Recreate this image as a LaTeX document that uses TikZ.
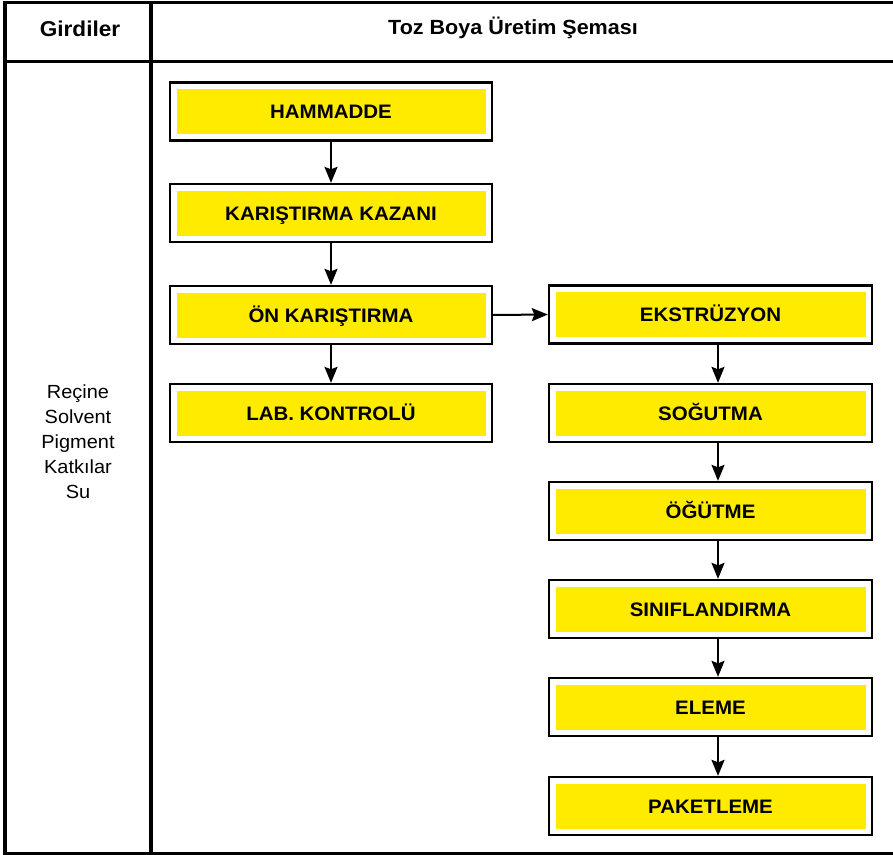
\documentclass[tikz,border=0pt]{standalone}
\usepackage{fontspec}
\setmainfont{Liberation Sans}[FakeStretch=1.05]
\usetikzlibrary{arrows.meta,calc}
\definecolor{boxyellow}{RGB}{255,235,0}
\begin{document}
\begin{tikzpicture}[x=1pt,y=-1pt,
 frame/.style={line width=3.3pt},
 procbox/.style={draw=black, line width=2.3pt, fill=white, minimum height=58pt, inner sep=0pt,
   text height=14pt, text depth=0pt, font=\fontsize{19.5}{22}\selectfont\bfseries,
   path picture={\fill[boxyellow] ([shift={(6.5pt,-6.5pt)}]path picture bounding box.north west)
     rectangle ([shift={(-6.5pt,6.5pt)}]path picture bounding box.south east);}},
 leftbox/.style={procbox, minimum width=322pt},
 rightbox/.style={procbox, minimum width=323pt},
 flow/.style={line width=2pt, -{Stealth[length=16pt,width=13pt,inset=2.5pt]}},
 headtext/.style={anchor=base, font=\fontsize{#1}{24}\selectfont\bfseries},
]
\useasboundingbox (0,0) rectangle (893,854);
\begin{scope}
\clip (0,0) rectangle (893,854);
% table frame
\draw[frame] (5,2.5) -- (893,2.5);
\draw[frame] (5,61.5) -- (893,61.5);
\draw[frame] (5,853.5) -- (893,853.5);
\draw[frame] (5,0.85) -- (5,855);
\draw[frame] (151,2.5) -- (151,853.5);
\end{scope}
% header
\node[headtext=21.5] (gir) at (80,36) {Girdiler};
\node[headtext=20.5] (title) at (513,34) {Toz Boya Üretim Şeması};
% inputs
\node[align=center, inner sep=0pt, font=\fontsize{19}{25}\selectfont] (inputs) at (78,441.3)
  {Reçine\\Solvent\\Pigment\\Katkılar\\Su};
% left column
\node[leftbox] (ham) at (331,111.5) {HAMMADDE};
\node[leftbox] (kaz) at (331,213) {KARIŞTIRMA KAZANI};
\node[leftbox] (on) at (331,315) {ÖN KARIŞTIRMA};
\node[leftbox] (lab) at (331,413) {LAB. KONTROLÜ};
% right column
\node[rightbox] (eks) at (710.5,314.5) {EKSTRÜZYON};
\node[rightbox] (sog) at (710.5,413) {SOĞUTMA};
\node[rightbox] (ogu) at (710.5,511) {ÖĞÜTME};
\node[rightbox] (sin) at (710.5,609) {SINIFLANDIRMA};
\node[rightbox] (ele) at (710.5,707) {ELEME};
\node[rightbox] (pak) at (710.5,806) {PAKETLEME};
% connectors
\draw[flow] (ham) -- (kaz);
\draw[flow] (kaz) -- (on);
\draw[flow] (on) -- (lab);
\draw[flow] (on.east) -- (eks.west);
\draw[flow] ($(eks.south)+(7.5,0)$) -- ($(sog.north)+(7.5,0)$);
\draw[flow] ($(sog.south)+(7.5,0)$) -- ($(ogu.north)+(7.5,0)$);
\draw[flow] ($(ogu.south)+(7.5,0)$) -- ($(sin.north)+(7.5,0)$);
\draw[flow] ($(sin.south)+(7.5,0)$) -- ($(ele.north)+(7.5,0)$);
\draw[flow] ($(ele.south)+(7.5,0)$) -- ($(pak.north)+(7.5,0)$);
\end{tikzpicture}
\end{document}
